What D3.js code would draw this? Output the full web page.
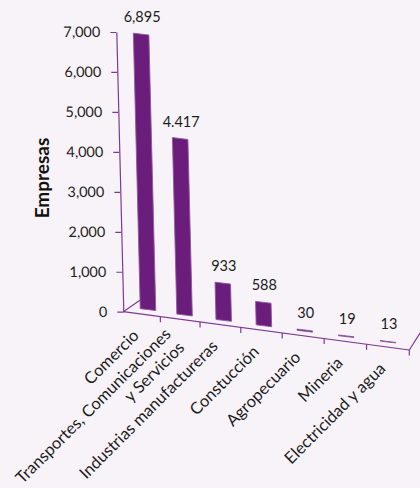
<!DOCTYPE html>
<html lang="es">
  <head>
    <meta charset="UTF-8" />
    <title>Empresas por sector</title>
    <script src="https://d3js.org/d3.v7.min.js"></script>
    <style>
      html, body { margin: 0; padding: 0; background: #f8f3f9; }
      svg { display: block; font-family: Lato, "Liberation Sans", sans-serif; }
    </style>
  </head>
  <body>
    <svg id="chart" width="420" height="488"></svg>
    <script>
      const categories = [
        "Comercio",
        "Transportes, Comunicaciones\ny Servicios",
        "Industrias manufactureras",
        "Constucción",
        "Agropecuario",
        "Mineria",
        "Electricidad y agua",
      ];
      const values = [6895, 4417, 933, 588, 30, 19, 13];
      const valueLabels = ["6,895", "4.417", "933", "588", "30", "19", "13"];
      const yTicks = [0, 1000, 2000, 3000, 4000, 5000, 6000, 7000];

      const svg = d3.select("#chart");
      const axisColor = "#7e3a92";
      const barColor = "#6a1d7b";
      const textColor = "#1c1c1c";

      // pseudo 3D geometry: floor front edge, bar bases, vertical lean
      const x0 = 123.3, y0 = 311.7;
      const xEdge = d3.scalePow().exponent(1.05).domain([0, 7]).range([x0, 409.3]);
      const edgeY = d3.scaleLinear().domain([x0, 409.3]).range([y0, 350]);
      const xBar = d3.scalePow().exponent(1.05).domain([0, 6]).range([148, 388]);
      const yBar = d3.scaleLinear().domain([0, 6]).range([309.6, 342]);
      const h = d3.scaleLinear().domain([0, 7000]).range([0, 279.7]);
      const lean = 0.025;
      const barW = 15.5;
      const slope = 0.12;

      // floor depth edges
      svg.append("line")
        .attr("x1", x0).attr("y1", y0)
        .attr("x2", 150).attr("y2", 293.3)
        .attr("stroke", axisColor).attr("stroke-width", 1.2);
      svg.append("line")
        .attr("x1", xEdge(7)).attr("y1", edgeY(xEdge(7)))
        .attr("x2", xEdge(7) + 16).attr("y2", edgeY(xEdge(7)) - 25.4)
        .attr("stroke", axisColor).attr("stroke-width", 1.2);

      // front edge of the floor with ticks
      svg.append("line")
        .attr("x1", x0).attr("y1", y0)
        .attr("x2", xEdge(7)).attr("y2", edgeY(xEdge(7)))
        .attr("stroke", axisColor).attr("stroke-width", 1.2);
      svg.selectAll(".xtick")
        .data(d3.range(1, 8))
        .enter()
        .append("line")
        .attr("class", "xtick")
        .attr("x1", (d) => xEdge(d)).attr("x2", (d) => xEdge(d))
        .attr("y1", (d) => edgeY(xEdge(d)))
        .attr("y2", (d) => edgeY(xEdge(d)) + 5.5)
        .attr("stroke", axisColor).attr("stroke-width", 1.2);

      // value axis, leaning slightly like the bars
      const yAxisScale = d3.scaleLinear().domain([0, 7000]).range([0, -h(7000)]);
      const yAxis = svg.append("g")
        .attr("transform", `translate(${x0},${y0}) skewX(${Math.atan(lean) * 180 / Math.PI})`)
        .call(
          d3.axisLeft(yAxisScale)
            .tickValues(yTicks)
            .tickFormat(d3.format(","))
            .tickSize(6)
            .tickSizeOuter(0)
            .tickPadding(10)
        );
      yAxis.selectAll("path, line").attr("stroke", axisColor).attr("stroke-width", 1.2);
      yAxis.selectAll("text")
        .attr("fill", textColor)
        .style("font-family", "Lato, 'Liberation Sans', sans-serif")
        .style("font-size", "14.5px");

      svg.append("text")
        .attr("transform", "translate(49,178) rotate(-90)")
        .attr("text-anchor", "middle")
        .attr("fill", "#111")
        .style("font-size", "19px")
        .style("font-weight", "bold")
        .text("Empresas");

      // bars (front faces)
      const barPts = (v, i) => {
        const bx = xBar(i), by = yBar(i), hh = h(v), dx = lean * hh;
        return [
          [bx - barW / 2, by - (slope * barW) / 2],
          [bx + barW / 2, by + (slope * barW) / 2],
          [bx + barW / 2 - dx, by + (slope * barW) / 2 - hh],
          [bx - barW / 2 - dx, by - (slope * barW) / 2 - hh],
        ];
      };
      svg.selectAll(".bar")
        .data(values)
        .enter()
        .append("polygon")
        .attr("class", "bar")
        .attr("points", (d, i) => barPts(d, i).map((p) => p.join(",")).join(" "))
        .attr("fill", barColor)
        .attr("stroke", "#8d5a9e")
        .attr("stroke-width", 0.9);

      // value labels
      svg.selectAll(".vlabel")
        .data(values)
        .enter()
        .append("text")
        .attr("class", "vlabel")
        .attr("x", (d, i) => xBar(i) - lean * h(d) + 1)
        .attr("y", (d, i) => yBar(i) - h(d) - 12)
        .attr("text-anchor", "middle")
        .attr("fill", textColor)
        .style("font-size", "14.5px")
        .text((d, i) => valueLabels[i]);

      // category labels, rotated
      const lh = 19;
      const catLabels = svg.selectAll(".clabel")
        .data(categories)
        .enter()
        .append("text")
        .attr("class", "clabel")
        .attr("transform", (d, i) => {
          const cx = xEdge(i + 0.5);
          return `translate(${cx - 1.4},${edgeY(cx) + 22.6}) rotate(-45)`;
        })
        .attr("text-anchor", "end")
        .attr("fill", textColor)
        .style("font-size", "16.5px");
      catLabels.each(function (d) {
        const lines = d.split("\n");
        const el = d3.select(this);
        lines.forEach((line, k) => {
          el.append("tspan")
            .attr("x", 0)
            .attr("y", (k - (lines.length - 1) / 2) * lh)
            .text(line);
        });
      });
    </script>
  </body>
</html>
